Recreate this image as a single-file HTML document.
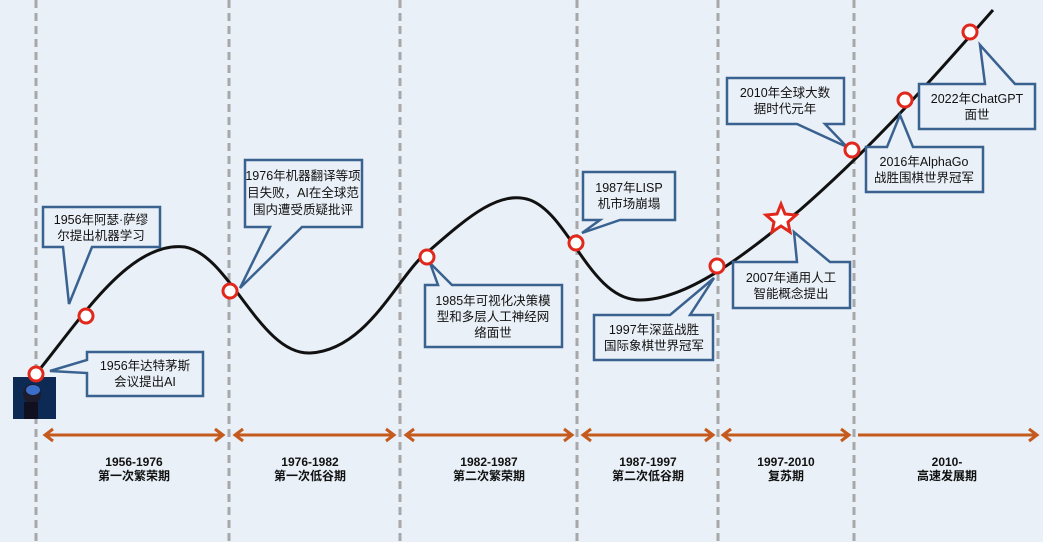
<!DOCTYPE html>
<html><head><meta charset="utf-8"><style>
html,body{margin:0;padding:0;background:#e9f0f7;}
svg{display:block;font-family:"Liberation Sans","Noto Sans CJK SC",sans-serif;}
.c{fill:#e9f0f7;stroke:#3a6290;stroke-width:2.5;stroke-linejoin:miter}
.t{font-size:12.5px;fill:#111;text-anchor:middle}
.b{font-size:12px;font-weight:bold;fill:#111;text-anchor:middle}
.d{stroke:#a8a8a8;stroke-width:3;stroke-dasharray:8,5}
.a{stroke:#c55a1e;stroke-width:3;fill:none}
.p{fill:#fff;stroke:#e0281c;stroke-width:3}
</style></head><body>
<svg width="1043" height="542" viewBox="0 0 1043 542">
<rect width="1043" height="542" fill="#e9f0f7"/>
<g class="d">
<line x1="36" y1="0" x2="36" y2="542"/><line x1="229" y1="0" x2="229" y2="542"/>
<line x1="400" y1="0" x2="400" y2="542"/><line x1="577" y1="0" x2="577" y2="542"/>
<line x1="718" y1="0" x2="718" y2="542"/><line x1="854" y1="0" x2="854" y2="542"/>
</g>
<g class="a">
<line x1="45" y1="435" x2="223" y2="435"/><polyline points="53,429 45,435 53,441"/><polyline points="215,429 223,435 215,441"/>
<line x1="235" y1="435" x2="394" y2="435"/><polyline points="243,429 235,435 243,441"/><polyline points="386,429 394,435 386,441"/>
<line x1="406" y1="435" x2="572" y2="435"/><polyline points="414,429 406,435 414,441"/><polyline points="564,429 572,435 564,441"/>
<line x1="583" y1="435" x2="713" y2="435"/><polyline points="591,429 583,435 591,441"/><polyline points="705,429 713,435 705,441"/>
<line x1="723" y1="435" x2="849" y2="435"/><polyline points="731,429 723,435 731,441"/><polyline points="841,429 849,435 841,441"/>
<line x1="858" y1="435" x2="1037" y2="435"/><polyline points="1029,429 1037,435 1029,441"/>
</g>
<text class="b" x="134" y="466">1956-1976</text><text class="b" x="134" y="480">第一次繁荣期</text>
<text class="b" x="310" y="466">1976-1982</text><text class="b" x="310" y="480">第一次低谷期</text>
<text class="b" x="489" y="466">1982-1987</text><text class="b" x="489" y="480">第二次繁荣期</text>
<text class="b" x="648" y="466">1987-1997</text><text class="b" x="648" y="480">第二次低谷期</text>
<text class="b" x="786" y="466">1997-2010</text><text class="b" x="786" y="480">复苏期</text>
<text class="b" x="947" y="466">2010-</text><text class="b" x="947" y="480">高速发展期</text>

<rect x="13" y="377" width="43" height="42" fill="#0d2a55"/>
<ellipse cx="32" cy="394" rx="9" ry="10" fill="#1c1c2c"/><rect x="24" y="402" width="14" height="17" fill="#101020"/>
<ellipse cx="33" cy="390" rx="7" ry="5" fill="#3a6ec8"/>

<path d="M36,374 C80,320 130,240 185,247 C230,255 260,355 310,353 C370,350 400,270 430,250 C470,215 500,190 530,200 C570,215 590,300 640,300 C690,300 750,250 800,210 C880,140 940,70 993,10" fill="none" stroke="#111" stroke-width="3"/>

<path class="c" d="M43,207 H160 V247 H92 L69,304 L63,247 H43 Z"/>
<text class="t" x="101" y="224">1956年阿瑟·萨缪</text><text class="t" x="101" y="240">尔提出机器学习</text>
<path class="c" d="M87,352 H203 V396 H87 V373 L50,371 L87,360 Z"/>
<text class="t" x="145" y="370">1956年达特茅斯</text><text class="t" x="145" y="386">会议提出AI</text>
<path class="c" d="M245,160 H362 V227 H302 L240,288 L270,227 H245 Z"/>
<text class="t" x="303" y="180">1976年机器翻译等项</text><text class="t" x="303" y="197">目失败，AI在全球范</text><text class="t" x="303" y="214">围内遭受质疑批评</text>
<path class="c" d="M425,285 H438 L430,263 L452,285 H562 V347 H425 Z"/>
<text class="t" x="493" y="305">1985年可视化决策模</text><text class="t" x="493" y="321">型和多层人工神经网</text><text class="t" x="493" y="337">络面世</text>
<path class="c" d="M583,172 H675 V220 H620 L582,233 L600,220 H583 Z"/>
<text class="t" x="629" y="192">1987年LISP</text><text class="t" x="629" y="208">机市场崩塌</text>
<path class="c" d="M594,315 H670 L714,278 L690,315 H713 V360 H594 Z"/>
<text class="t" x="654" y="334">1997年深蓝战胜</text><text class="t" x="654" y="350">国际象棋世界冠军</text>
<path class="c" d="M733,262 H797 L794,232 L830,262 H850 V308 H733 Z"/>
<text class="t" x="791" y="282">2007年通用人工</text><text class="t" x="791" y="298">智能概念提出</text>
<path class="c" d="M727,78 H844 V124 H825 L847,147 L797,124 H727 Z"/>
<text class="t" x="785" y="97">2010年全球大数</text><text class="t" x="785" y="113">据时代元年</text>
<path class="c" d="M866,147 H887 L900,115 L913,147 H983 V192 H866 Z"/>
<text class="t" x="924" y="166">2016年AlphaGo</text><text class="t" x="924" y="182">战胜围棋世界冠军</text>
<path class="c" d="M919,84 H985 L980,45 L1015,84 H1035 V129 H919 Z"/>
<text class="t" x="977" y="103">2022年ChatGPT</text><text class="t" x="977" y="119">面世</text>

<g class="p">
<circle cx="36" cy="374" r="7"/><circle cx="86" cy="316" r="7"/><circle cx="230" cy="291" r="7"/>
<circle cx="427" cy="257" r="7"/><circle cx="576" cy="243" r="7"/><circle cx="717" cy="266" r="7"/>
<circle cx="852" cy="150" r="7"/><circle cx="905" cy="100" r="7"/><circle cx="970" cy="32" r="7"/>
</g>
<polygon points="781,204 785,214 796,215 788,222 790,232 781,226 772,232 774,222 766,215 777,214" fill="#fff" stroke="#e0281c" stroke-width="3"/>
</svg>
</body></html>
